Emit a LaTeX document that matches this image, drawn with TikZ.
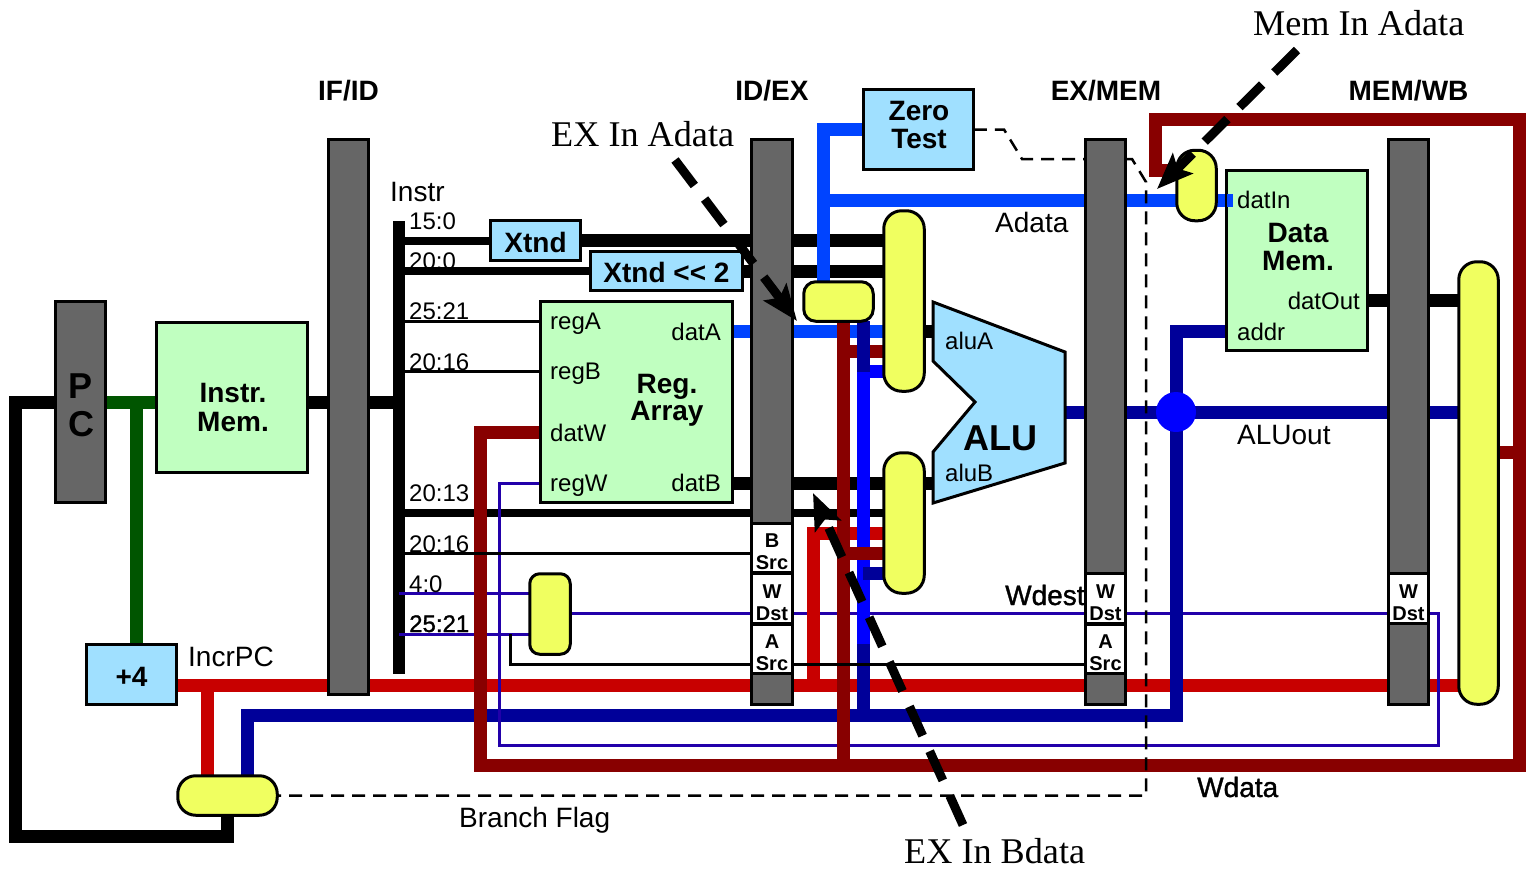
\documentclass[tikz,border=0pt]{standalone}
\usepackage{fontspec}
\setmainfont{Liberation Sans}
\newfontfamily\annfont{Liberation Serif}
\newfontfamily\heavyfont[FakeBold=1.2]{Liberation Sans}
\usetikzlibrary{arrows.meta,backgrounds}
\definecolor{barcol}{HTML}{666666}
\definecolor{memcol}{HTML}{C0FFC0}
\definecolor{boxcol}{HTML}{A0E0FF}
\definecolor{muxcol}{HTML}{F0FF60}
\definecolor{pccol}{HTML}{005500}
\definecolor{incrcol}{HTML}{C80000}
\definecolor{wdatacol}{HTML}{880000}
\definecolor{adatacol}{HTML}{0044FF}
\definecolor{bdatacol}{HTML}{0000FF}
\definecolor{alucol}{HTML}{000099}
\definecolor{dstcol}{HTML}{2200AA}
\tikzset{
  box/.style={draw,line width=3pt,inner sep=0pt,outer sep=0pt,align=center},
  bar/.style={box,fill=barcol},
  ctl/.style={box,fill=white,minimum width=40.5pt,minimum height=49.5pt},
  ctltext/.style={inner sep=0pt,align=center,font=\bfseries\fontsize{20}{22}\selectfont},
  mem/.style={box,fill=memcol},
  blk/.style={box,fill=boxcol},
  mux/.style={box,fill=muxcol,rounded corners=18pt},
  wire/.style={line width=13pt},
  midwire/.style={line width=8pt},
  thinwire/.style={line width=3pt},
  ctlwire/.style={line width=2.5pt,dash pattern=on 13pt off 8pt},
  small/.style={font=\fontsize{24}{24}\selectfont,anchor=base west,inner sep=0pt},
  sig/.style={font=\fontsize{28}{28}\selectfont,anchor=base west,inner sep=0pt},
  heavy/.style={font=\heavyfont\fontsize{28}{28}\selectfont,anchor=base west,inner sep=0pt},
  ttl/.style={font=\bfseries\fontsize{28}{28}\selectfont,anchor=base,inner sep=0pt,align=center},
  blkname/.style={ttl,anchor=center},
  ann/.style={font=\annfont\fontsize{36.2}{36}\selectfont,anchor=base west,inner sep=0pt},
  callout/.style={line width=9pt,dash pattern=on 32pt off 17pt,-{Stealth[length=36pt,width=28pt,inset=7pt]}}
}
\begin{document}
\begin{tikzpicture}[x=1pt,y=-1pt]
 \useasboundingbox (0,0) rectangle (1528,873);

 \foreach \n/\x/\y/\h in {ifid/348.5/417/554.5, idex/772/422/564.5, exmem/1105.5/422/564.5, memwb/1408.5/422/564.5}
  {
    \node[bar,minimum width=40.5pt,minimum height=\h pt] (\n) at (\x,\y) {};
  }
 \node[bar,minimum width=49.5pt,minimum height=200.5pt] (pc) at (80.5,402) {};
 \node[blkname,font=\bfseries\fontsize{36}{38}\selectfont] (pcname) at (81,405) {P\\C};

 \foreach \n/\x/\y/\t in {bsrc/772/548/{B\\Src}, wdst/772/598.5/{W\\Dst}, asrc/772/649/{A\\Src},
                          wdstb/1105.5/598.5/{W\\Dst}, asrcb/1105.5/649/{A\\Src}, wdstc/1408.5/598.5/{W\\Dst}}
  {
    \node[ctl] (\n) at (\x,\y) {};
    \node[ctltext] (\n txt) at (\x,\y+3.8) {\t};
  }

 \node[mem,minimum width=150.5pt,minimum height=149.5pt] (imem) at (232,397.5) {};
 \node[blkname,font=\bfseries\fontsize{28}{29}\selectfont] (imemname) at (233,407.5) {Instr.\\Mem.};
 \node[mem,minimum width=191.5pt,minimum height=200.5pt] (regs) at (636.5,402) {};
 \node[mem,minimum width=140.5pt,minimum height=179.5pt] (dmem) at (1297,260.5) {};
 \draw[wire,adatacol] (dmem.west |- 0,200) -- (1233,200);

 \node[blk,minimum width=110.5pt,minimum height=79.5pt] (zero) at (918.5,129.5) {};
 \node[blkname] (zeroname) at (919,125.5) {Zero\\Test};
 \node[blk,minimum width=89.5pt,minimum height=39.5pt] (xtnd) at (535.5,240.5) {};
 \node[ttl] (xtndname) at (535.5,252) {Xtnd};
 \node[blk,minimum width=151.5pt,minimum height=38.5pt] (xtndtwo) at (666.5,271) {};
 \node[ttl] (xtndtwoname) at (666.5,282) {Xtnd <{}< 2};
 \node[blk,minimum width=89.5pt,minimum height=59.5pt] (incr) at (131.5,674.5) {};
 \node[ttl] (incrname) at (131.5,686) {+4};

 \draw[box,fill=boxcol] (933,302) -- (1065,352) -- (1065,463) -- (933,503) -- (933,452) -- (975,402) -- (933,361) -- cycle;
 \coordinate (aluain) at (933,331);
 \coordinate (aluBin) at (933,483);
 \coordinate (aluout) at (1065,412);

 \foreach \n/\x/\y/\w/\h/\r in {muxa/904/301/40.5/180.5/18, muxb/904/523/40.5/140.5/18, muxw/1478.5/483/39.5/442.5/18,
                                muxm/1196.5/185.5/39.5/70.5/18, fwd/838.5/301.5/69.5/39.5/12, wsel/550/614/40.5/80.5/10, muxpc/227.5/795.5/99.5/39.5/18}
  {
    \node[mux,rounded corners=\r pt,minimum width=\w pt,minimum height=\h pt] (\n) at (\x,\y) {};
  }

 \node[circle,fill=bdatacol,minimum size=40pt,inner sep=0pt] (aludot) at (1176,412) {};

 \foreach \n/\x/\y/\t in {regA/550/329/regA, regB/550/379/regB, datW/550/441/datW, regW/550/491/regW,
                          datIn/1237/208/datIn, addr/1237/340/addr, aluAlab/945/349/aluA, aluBlab/945/481/aluB,
                          bitsa/409/229/15:0, bitsb/409/269/20:0, bitsc/409/319/25:21, bitsd/409/370/20:16,
                          bitse/409/501/20:13, bitsf/409/552/20:16, bitsg/409/592/4:0}
  {
    \node[small] (\n) at (\x,\y) {\t};
  }
 \node[small,anchor=base east] (datA) at (721,340) {datA};
 \node[small,anchor=base east] (datB) at (721,491) {datB};
 \node[small,anchor=base east] (datOut) at (1360,309) {datOut};
 \node[small,font=\heavyfont\fontsize{24}{24}\selectfont] (bitsh) at (409,632) {25:21};

 \foreach \n/\x/\y/\t in {instr/390/201/Instr, adata/995/232/Adata, aluoutlab/1237/444/ALUout,
                          incrpc/188/666/IncrPC, brflag/459/827/Branch Flag}
  {
    \node[sig] (\n) at (\x,\y) {\t};
  }
 \node[heavy] (wdest) at (1005,605) {Wdest};
 \node[heavy] (wdata) at (1197,797) {Wdata};

 \foreach \n/\x/\t in {ififid/348.5/{IF/ID}, ifidex/772/{ID/EX}, ifexmem/1106/{EX/MEM}, ifmemwb/1408.5/{MEM/WB}}
  {
    \node[ttl] (\n) at (\x,100) {\t};
  }
 \node[blkname,font=\bfseries\fontsize{28}{27}\selectfont] (regname) at (667,400) {Reg.\\Array};
 \node[blkname] (dmemname) at (1298,246.5) {Data\\Mem.};
 \node[ttl,font=\bfseries\fontsize{36}{36}\selectfont] (aluname) at (1000,450) {ALU};

 \node[ann] (exa) at (551,146) {EX In Adata};
 \node[ann] (exb) at (904,863) {EX In Bdata};
 \node[ann] (mema) at (1253,35) {Mem In Adata};

 \coordinate (busT) at (399,221);
 \coordinate (busB) at (399,674);
 \coordinate (pcfork) at (136,402);

 \begin{scope}[on background layer]
  \draw[line width=12pt] (busT) -- (busB);
  \draw[wire] (imem.east |- 0,402) -- (busT |- 0,402);
  \draw[wire] (muxpc.south) |- (15.5,836) |- (pc.west);
  \draw[midwire] (busT |- 0,241) -- (xtnd.west |- 0,241);
  \draw[midwire] (busT |- 0,271) -- (xtndtwo.west |- 0,271);
  \draw[wire] (xtnd.east |- 0,240) -- (muxa.west |- 0,240);
  \draw[wire] (xtndtwo.east |- 0,271) -- (muxa.west |- 0,271);
  \draw[midwire] (busT |- 0,513) -- (muxb.west |- 0,513);
  \draw[wire] (regs.east |- 0,483) -- (muxb.west |- 0,483);
  \draw[wire] (muxa.east |- 0,331) -- (aluain);
  \draw[wire] (muxb.east |- 0,483) -- (aluBin);
  \draw[wire] (dmem.east |- 0,300) -- (muxw.west |- 0,300);
  \draw[wire,pccol] (pc.east |- 0,402) -- (imem.west |- 0,402);
  \draw[wire,pccol] (pcfork) -- (pcfork |- incr.north);

  \draw[wire,adatacol] (regs.east |- 0,331) -- (muxa.west |- 0,331);
  \draw[wire,adatacol] (fwd.north -| 823,0) |- (zero.west);
  \draw[wire,adatacol] (823,200) -- (muxm.west |- 0,200);
  \draw[wire,adatacol] (muxm.east |- 0,200) -- (dmem.west |- 0,200);

  \draw[thinwire,dstcol] (wsel.east |- 0,613.5) -- (1438,613.5);

  \draw[wire,incrcol] (incr.east |- 0,685) -- (muxw.west |- 0,685);
  \draw[wire,incrcol] (207,685) -- (muxpc.north -| 207,0);
  \draw[wire,incrcol] (813,685) |- (muxb.west |- 0,533.5);

  \draw[wire,alucol] (aluout) -- (muxw.west |- aluout);
  \draw[wire,alucol] (muxpc.north -| 247,0) |- (1176,715) |- (dmem.west |- 0,331);
  \draw[thinwire,dstcol] (1438,612) |- (499,745) |- (regs.west |- 0,483);
  \draw[thinwire,dstcol] (busT |- 0,593.5) -- (wsel.west |- 0,593.5);
  \draw[thinwire,dstcol] (busT |- 0,634) -- (wsel.west |- 0,634);
  \draw[wire,alucol] (863,715) -- (863,644);
  \draw[wire,bdatacol] (863,644) -- (863,371) -- (muxa.west |- 0,371);
  \draw[wire,alucol] (863,573) -- (muxb.west |- 0,573);

  \draw[wire,wdatacol] (regs.west |- 0,432) -| (480,765) -- (1519.5,765) -- (1519.5,119.5) -- (1155.5,119.5) |- (muxm.west |- 0,170);
  \draw[wire,wdatacol] (muxw.east |- 0,452) -- (1519.5,452);
  \draw[wire,wdatacol] (fwd.south -| 843,0) -- (843,765);
  \draw[wire,wdatacol] (843,351.5) -- (muxa.west |- 0,351.5);
  \draw[wire,wdatacol] (843,553) -- (muxb.west |- 0,553);
  \draw[wire,alucol] (fwd.south -| 863,0) -- (863,372);

  \draw[thinwire] (busT |- 0,321) -- (regs.west |- 0,321);
  \draw[thinwire] (busT |- 0,371) -- (regs.west |- 0,371);
  \draw[thinwire] (busT |- 0,553) -- (bsrc.west |- 0,553);
  \draw[thinwire] (510,634) |- (asrcb.west |- 0,664);

  \draw[ctlwire] (zero.east) -- (1004,129.5) -- (1022,159) -- (1132,159) -- (1146,182) -- (1146,795.5) -- (muxpc.east);
 \end{scope}

 \coordinate (tipa) at (797,321);
 \coordinate (tipb) at (813,493);
 \coordinate (tipm) at (1157,189);
 \draw[callout] (675,160) -- (tipa);
 \draw[callout] (963,825) -- (tipb);
 \draw[callout] (1297,50) -- (tipm);
\end{tikzpicture}
\end{document}
